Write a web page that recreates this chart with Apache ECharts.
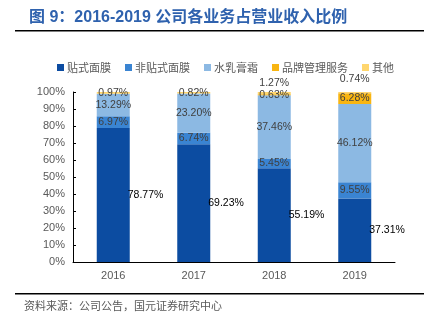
<!DOCTYPE html>
<html><head><meta charset="utf-8">
<script src="https://cdn.jsdelivr.net/npm/echarts@6/dist/echarts.min.js"></script>
<style>html,body{margin:0;padding:0;background:#fff}#c{width:424px;height:321px}</style>
</head><body><div id="c"></div>
<script>
const categories = ['2016','2017','2018','2019'];
const seriesNames = ['贴式面膜','非贴式面膜','水乳膏霜','品牌管理服务','其他'];
const tieshi = [78.77, 69.23, 55.19, 37.31];
const feitieshi = [6.97, 6.74, 5.45, 9.55];
const shuiru = [13.29, 23.20, 37.46, 46.12];
const pinpai = [0, 0, 0.63, 6.28];
const qita = [0.97, 0.82, 1.27, 0.74];
const yTicks = [0,10,20,30,40,50,60,70,80,90,100];

const colors = ['#0C4CA1','#3A84D2','#8CB9E3','#F8B512','#FFD66E'];
const fmt = p => (p.value ? Number(p.value).toFixed(2) + '%' : '');
const font = 'Liberation Sans, Arial, sans-serif';
const innerLabel = {show:true, position:'inside', formatter: fmt, color:'#404040', fontSize:10.5, fontFamily:font};

const chart = echarts.init(document.getElementById('c'), null, {renderer:'canvas'});
chart.setOption({
  animation:false,
  title:{text:'图 9：2016-2019 公司各业务占营业收入比例', left:24, top:5,
    textStyle:{color:'#2F62AE', fontSize:16, fontWeight:'bold', fontFamily:'Liberation Sans, Noto Sans CJK SC, sans-serif'}},
  legend:{data:seriesNames, left:52, top:57, itemWidth:7, itemHeight:7, itemGap:14, icon:'rect',
    textStyle:{color:'#595959', fontSize:11, fontFamily:'Noto Sans CJK SC, sans-serif', padding:[0,0,0,-2]}},
  grid:{left:73, right:29, top:92, bottom:59},
  xAxis:{type:'category', data:categories,
    axisLine:{lineStyle:{color:'#000', width:1}},
    axisTick:{inside:true, length:4, lineStyle:{color:'#000'}},
    axisLabel:{color:'#595959', fontSize:11, fontFamily:font, margin:8}},
  yAxis:{type:'value', min:0, max:100, interval:10,
    splitLine:{show:false},
    axisLine:{show:true, lineStyle:{color:'#000', width:1}},
    axisTick:{show:true, inside:true, length:3, lineStyle:{color:'#000'}},
    axisLabel:{color:'#595959', fontSize:11, fontFamily:font, margin:8,
      formatter: v => yTicks.includes(v) ? v + '%' : ''}},
  graphic:[
    {type:'rect', shape:{x:15, y:30, width:409, height:1.5}, style:{fill:'#000'}},
    {type:'rect', shape:{x:15, y:293, width:409, height:1.5}, style:{fill:'#000'}},
    {type:'text', left:24, top:300, style:{text:'资料来源：公司公告，国元证券研究中心', fill:'#595959', fontSize:11, fontFamily:'Noto Sans CJK SC, sans-serif'}}
  ],
  series:[
    {name:seriesNames[0], type:'bar', stack:'a', barWidth:33, data:tieshi, itemStyle:{color:colors[0]},
      label:{show:true, position:'right', distance:-2, formatter:fmt, color:'#000', fontSize:10.5, fontFamily:font}},
    {name:seriesNames[1], type:'bar', stack:'a', data:feitieshi, itemStyle:{color:colors[1]}, label:innerLabel},
    {name:seriesNames[2], type:'bar', stack:'a', data:shuiru, itemStyle:{color:colors[2]}, label:innerLabel},
    {name:seriesNames[3], type:'bar', stack:'a', data:pinpai, itemStyle:{color:colors[3]}, label:innerLabel},
    {name:seriesNames[4], type:'bar', stack:'a', itemStyle:{color:colors[4]}, label:innerLabel,
      data:[qita[0], qita[1],
        {value:qita[2], label:{position:'top', distance:3}},
        {value:qita[3], label:{position:'top', distance:7}}]}
  ]
});
</script></body></html>
